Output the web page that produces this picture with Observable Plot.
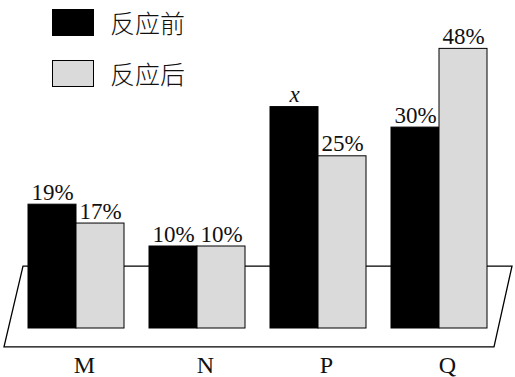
<!DOCTYPE html>
<html>
<head>
<meta charset="utf-8">
<script src="https://cdn.jsdelivr.net/npm/d3@7"></script>
<script src="https://cdn.jsdelivr.net/npm/@observablehq/plot@0.6"></script>
<style>
  body { margin: 0; background: #fff; }
  #wrap { position: relative; width: 515px; height: 377px; }
  .legend { position: absolute; left: 52px; font-family: "Noto Sans CJK SC", sans-serif; font-size: 25px; font-weight: 300; color: #111; }
  .item { position: absolute; left: 0; display: flex; align-items: center; white-space: nowrap; }
  .sw { width: 40px; height: 25px; border: 1px solid #000; margin-right: 16px; }
</style>
</head>
<body>
<div id="wrap"></div>
<script>
// Data
const categories = ["M", "N", "P", "Q"];
const seriesNames = ["反应前", "反应后"];
const labelsBefore = ["19%", "10%", "x", "30%"];
const labelsAfter = ["17%", "10%", "25%", "48%"];
// bar heights as drawn in the picture (not to scale), in units where 10% = 10
const drawnBefore = [15.1, 10, 27.0, 24.5];
const drawnAfter = [12.8, 10, 21.0, 34.1];
const seriesColors = ["#000000", "#dadada"];

const before = categories.map((c, i) => ({cat: c, h: drawnBefore[i], label: labelsBefore[i]}));
const after = categories.map((c, i) => ({cat: c, h: drawnAfter[i], label: labelsAfter[i]}));

const serif = "'Liberation Serif', 'Times New Roman', serif";
const labelOpts = {x: "cat", y: "h", text: "label", lineAnchor: "bottom", fontSize: 23, fontFamily: serif, fill: "#111"};

const plot = Plot.plot({
  width: 515,
  height: 377,
  marginLeft: 14,
  marginRight: 15,
  marginTop: 0,
  marginBottom: 49,
  x: {domain: categories, paddingInner: 0.209, paddingOuter: 0.1045, axis: null},
  y: {domain: [0, 40], axis: null},
  style: {background: "#fff", overflow: "visible"},
  marks: [
    Plot.barY(before, {x: "cat", y: "h", fill: seriesColors[0], stroke: "#000", strokeWidth: 1, insetRight: 48}),
    Plot.barY(after, {x: "cat", y: "h", fill: seriesColors[1], stroke: "#000", strokeWidth: 1, insetLeft: 48}),
    Plot.text(before.filter(d => d.label !== "x"), {...labelOpts, dx: -24, dy: -5}),
    Plot.text(before.filter(d => d.label === "x"), {...labelOpts, dx: -24, dy: -5, fontStyle: "italic"}),
    Plot.text(after, {...labelOpts, dx: 24, dy: -5}),
    Plot.text(categories, {x: d => d, frameAnchor: "bottom", text: d => d, lineAnchor: "middle", dy: 37, dx: 8, fontSize: 24, fontFamily: serif, fill: "#111"})
  ]
});

// Parallelogram base drawn behind the bars, positioned from the plot's scales
const xs = plot.scale("x"), ys = plot.scale("y");
const L = xs.apply(categories[0]);
const R = xs.apply(categories[categories.length - 1]) + xs.bandwidth;
const yt = ys.apply(7.55), yb = ys.apply(-2.3);
d3.select(plot).insert("path", "g")
  .attr("d", `M${L - 5},${yt}L${R + 25},${yt}L${R + 7},${yb}L${L - 24},${yb}Z`)
  .attr("fill", "none").attr("stroke", "#000").attr("stroke-width", 1.3);

const wrap = document.getElementById("wrap");
wrap.appendChild(plot);

// Legend overlay
const legend = document.createElement("div");
legend.className = "legend";
seriesNames.forEach((name, i) => {
  const item = document.createElement("div");
  item.className = "item";
  item.style.top = (i === 0 ? 4 : 55) + "px";
  const sw = document.createElement("span");
  sw.className = "sw";
  sw.style.background = seriesColors[i];
  const t = document.createElement("span");
  t.textContent = name;
  item.appendChild(sw);
  item.appendChild(t);
  legend.appendChild(item);
});
legend.style.top = "0px";
wrap.appendChild(legend);
</script>
</body>
</html>
